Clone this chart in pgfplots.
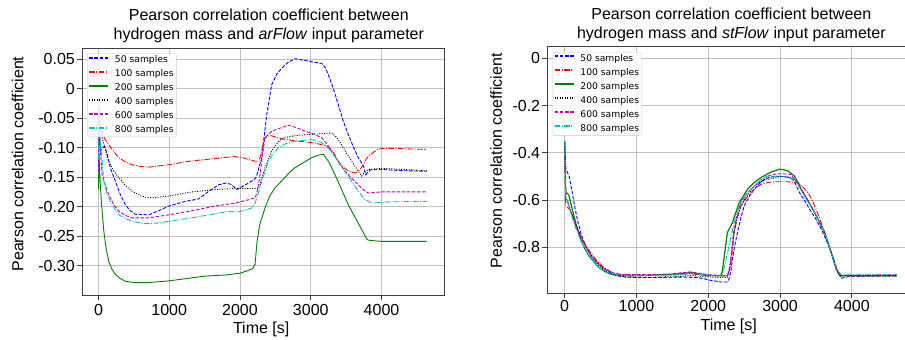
\documentclass[border=0pt]{standalone}
\usepackage{pgfplots}
\pgfplotsset{compat=1.18}
\usepackage{fontspec}
\setmainfont{Liberation Sans}
\newfontfamily\legfont{DejaVu Sans}
\definecolor{mplgreen}{rgb}{0,0.5,0}
\definecolor{mplmag}{rgb}{0.75,0,0.75}
\definecolor{mplcyan}{rgb}{0,0.75,0.75}
\pgfplotsset{
  myaxis/.style={
    scale only axis,
    anchor=south west,
    axis line style={black!75, line width=0.9pt},
    grid=major,
    major grid style={black!25, line width=0.8pt},
    tick align=outside,
    tick pos=left,
    major tick length=5pt,
    tick style={black!75, line width=0.8pt},
    tick label style={font=\fontsize{16}{19}\selectfont},
    yticklabel style={anchor=east, inner sep=0pt, xshift=-2pt},
    xticklabel style={anchor=north, inner sep=0pt},
    label style={font=\fontsize{16}{19}\selectfont},
    title style={font=\fontsize{16}{19.3}\selectfont, align=center, anchor=south, inner sep=0pt, yshift=-1.3pt},
    legend cell align=left,
    legend image code/.code={\draw[##1, line width=1.8pt] plot coordinates {(0pt,2.6pt) (19pt,2.6pt)};},
    legend style={anchor=north west, draw=black!20, fill=white, fill opacity=0.85, text opacity=1,
      rounded corners=2pt, font=\legfont\fontsize{9.2}{11}\selectfont,
      inner xsep=1pt, inner ysep=1.3pt, row sep=3.2pt,
      nodes={inner xsep=1.7pt, inner ysep=1pt, text height=6.8pt, text depth=2pt},
      /tikz/every odd column/.append style={column sep=4pt}},
    xtick={0,1000,2000,3000,4000},
    xticklabels={0,1000,2000,3000,4000},
    xlabel={Time [s]},
    ylabel={Pearson correlation coefficient},
    ylabel style={rotate=0, anchor=base, inner sep=0pt},
    xlabel style={anchor=base, inner sep=0pt},
  },
}
\begin{document}
\begin{tikzpicture}
\useasboundingbox (0,0) rectangle (905pt,340pt);
% ---------------- left: arFlow
\begin{axis}[myaxis,
  at={(82pt,45pt)}, width=362pt, height=247pt,
  xmin=-232.5, xmax=4882.5, ymin=-0.35, ymax=0.0692,
  ytick={-0.30,-0.25,-0.20,-0.15,-0.10,-0.05,0,0.05},
  yticklabels={-0.30,-0.25,-0.20,-0.15,-0.10,-0.05,0,0.05},
  xticklabel style={yshift=-4pt},
  title={Pearson correlation coefficient between\\hydrogen mass and \textit{arFlow} input parameter},
  title style={at={(0.516,1)}},
  ylabel style={at={(axis description cs:-0.162,0.53)}},
  xlabel style={at={(axis description cs:0.495,0)}, yshift=-38.8pt},
  legend style={at={(0.0146,0.9785)}},
]
\addplot[blue, line width=0.9pt, dash pattern=on 3.5pt off 1.6pt] coordinates {(0,-0.15) (10,-0.07) (30,-0.105) (60,-0.10) (90,-0.098) (120,-0.11) (170,-0.135) (240,-0.157) (310,-0.18) (381,-0.197) (450,-0.207) (523,-0.213) (711,-0.214) (850,-0.207) (994,-0.199) (1229,-0.191) (1417,-0.187) (1559,-0.174) (1700,-0.163) (1800,-0.160) (1870,-0.162) (1958,-0.171) (2076,-0.163) (2188,-0.155) (2230,-0.150) (2307,-0.117) (2378,-0.044) (2448,0.007) (2520,0.025) (2590,0.035) (2680,0.045) (2778,0.051) (2870,0.049) (2966,0.047) (3154,0.043) (3210,0.035) (3248,0.024) (3320,0.0) (3389,-0.027) (3460,-0.055) (3531,-0.078) (3600,-0.098) (3672,-0.117) (3740,-0.130) (3776,-0.146) (3820,-0.140) (3860,-0.137) (4002,-0.137) (4300,-0.139) (4640,-0.140)};
\addlegendentry{50 samples}
\addplot[red, line width=0.9pt, dash pattern=on 5.5pt off 1.5pt on 1pt off 1.5pt] coordinates {(0,-0.12) (10,-0.045) (30,-0.068) (60,-0.078) (100,-0.087) (146,-0.095) (220,-0.107) (288,-0.117) (380,-0.124) (476,-0.129) (600,-0.132) (711,-0.133) (850,-0.131) (994,-0.129) (1276,-0.123) (1606,-0.119) (1912,-0.115) (2040,-0.117) (2124,-0.120) (2213,-0.123) (2265,-0.123) (2300,-0.110) (2330,-0.090) (2354,-0.083) (2424,-0.079) (2500,-0.082) (2590,-0.085) (2825,-0.089) (3060,-0.092) (3248,-0.098) (3320,-0.108) (3389,-0.123) (3460,-0.133) (3531,-0.140) (3625,-0.143) (3690,-0.138) (3742,-0.129) (3790,-0.118) (3837,-0.112) (3954,-0.102) (4096,-0.101) (4640,-0.103)};
\addlegendentry{100 samples}
\addplot[mplgreen, line width=0.9pt, solid] coordinates {(0,-0.17) (8,-0.11) (20,-0.15) (40,-0.19) (76,-0.242) (110,-0.272) (146,-0.293) (190,-0.306) (240,-0.315) (310,-0.322) (381,-0.327) (523,-0.329) (700,-0.329) (1000,-0.326) (1250,-0.322) (1500,-0.318) (1800,-0.316) (2000,-0.313) (2100,-0.309) (2180,-0.305) (2213,-0.298) (2240,-0.26) (2280,-0.23) (2354,-0.202) (2420,-0.182) (2495,-0.168) (2600,-0.155) (2700,-0.142) (2778,-0.134) (2900,-0.125) (3013,-0.117) (3100,-0.113) (3178,-0.111) (3260,-0.125) (3343,-0.146) (3440,-0.172) (3531,-0.197) (3680,-0.230) (3790,-0.255) (3814,-0.257) (3900,-0.258) (4002,-0.259) (4638,-0.259)};
\addlegendentry{200 samples}
\addplot[black, line width=0.9pt, dash pattern=on 1pt off 1.5pt] coordinates {(0,-0.10) (10,-0.03) (30,-0.07) (52,-0.083) (100,-0.104) (146,-0.123) (220,-0.140) (288,-0.151) (380,-0.164) (476,-0.174) (600,-0.182) (711,-0.185) (850,-0.184) (994,-0.182) (1323,-0.175) (1653,-0.171) (1982,-0.169) (2265,-0.169) (2300,-0.155) (2354,-0.134) (2448,-0.106) (2520,-0.093) (2590,-0.085) (2700,-0.081) (2825,-0.079) (3060,-0.077) (3295,-0.075) (3370,-0.083) (3436,-0.095) (3500,-0.108) (3578,-0.123) (3650,-0.136) (3719,-0.148) (3770,-0.141) (3813,-0.137) (4002,-0.135) (4638,-0.139)};
\addlegendentry{400 samples}
\addplot[mplmag, line width=0.9pt, dash pattern=on 3.5pt off 1.6pt] coordinates {(0,-0.14) (10,-0.05) (30,-0.11) (52,-0.146) (100,-0.165) (146,-0.180) (220,-0.197) (288,-0.208) (380,-0.215) (476,-0.219) (711,-0.219) (994,-0.214) (1323,-0.207) (1653,-0.199) (1935,-0.194) (2100,-0.189) (2217,-0.185) (2250,-0.170) (2283,-0.146) (2320,-0.110) (2354,-0.083) (2448,-0.072) (2560,-0.067) (2683,-0.062) (2800,-0.066) (2919,-0.072) (3050,-0.077) (3154,-0.083) (3230,-0.094) (3295,-0.106) (3390,-0.124) (3484,-0.140) (3580,-0.152) (3672,-0.163) (3750,-0.172) (3813,-0.177) (3900,-0.176) (4002,-0.175) (4638,-0.175)};
\addlegendentry{600 samples}
\addplot[mplcyan, line width=0.9pt, dash pattern=on 5.5pt off 1.5pt on 1pt off 1.5pt] coordinates {(0,-0.12) (10,-0.04) (30,-0.10) (50,-0.12) (76,-0.157) (120,-0.178) (170,-0.191) (230,-0.204) (288,-0.214) (380,-0.220) (476,-0.225) (664,-0.229) (830,-0.228) (994,-0.225) (1323,-0.219) (1653,-0.212) (1841,-0.208) (1982,-0.209) (2100,-0.205) (2170,-0.202) (2213,-0.194) (2240,-0.185) (2307,-0.157) (2401,-0.123) (2470,-0.110) (2542,-0.100) (2650,-0.093) (2778,-0.089) (3013,-0.086) (3110,-0.089) (3201,-0.095) (3290,-0.107) (3389,-0.123) (3480,-0.140) (3578,-0.157) (3680,-0.175) (3766,-0.188) (3860,-0.194) (4096,-0.192) (4638,-0.191)};
\addlegendentry{800 samples}
\end{axis}
% ---------------- right: stFlow
\begin{axis}[myaxis,
  at={(547.3pt,46.7pt)}, width=367.3pt, height=246.6pt,
  xmin=-242, xmax=4874, ymin=-0.9937, ymax=0.049,
  ytick={-0.8,-0.6,-0.4,-0.2,0},
  yticklabels={-0.8,-0.6,-0.4,-0.2,0},
  xticklabel style={yshift=-2pt},
  title={Pearson correlation coefficient between\\hydrogen mass and \textit{stFlow} input parameter},
  title style={at={(0.501,1)}},
  ylabel style={at={(axis description cs:-0.124,0.537)}},
  xlabel style={at={(axis description cs:0.494,0)}, yshift=-37.1pt},
  legend style={at={(0.0147,0.97851)}},
]
\addplot[blue, line width=0.9pt, dash pattern=on 3.5pt off 1.6pt] coordinates {(0,-0.35) (18,-0.476) (35,-0.48) (60,-0.497) (95,-0.55) (130,-0.610) (175,-0.68) (223,-0.737) (270,-0.777) (316,-0.808) (380,-0.84) (456,-0.864) (525,-0.884) (595,-0.899) (665,-0.912) (735,-0.920) (850,-0.925) (967,-0.927) (1293,-0.927) (1618,-0.925) (1851,-0.927) (1950,-0.933) (2037,-0.939) (2176,-0.946) (2270,-0.946) (2290,-0.933) (2315,-0.90) (2336,-0.850) (2370,-0.79) (2407,-0.737) (2450,-0.68) (2500,-0.624) (2570,-0.585) (2640,-0.554) (2710,-0.53) (2780,-0.512) (2850,-0.504) (2921,-0.500) (3084,-0.500) (3178,-0.512) (3220,-0.535) (3271,-0.568) (3340,-0.60) (3411,-0.638) (3490,-0.675) (3575,-0.723) (3645,-0.77) (3715,-0.822) (3760,-0.86) (3808,-0.906) (3855,-0.930) (3949,-0.923) (4300,-0.921) (4626,-0.920)};
\addlegendentry{50 samples}
\addplot[red, line width=0.9pt, dash pattern=on 5.5pt off 1.5pt on 1pt off 1.5pt] coordinates {(0,-0.35) (15,-0.627) (40,-0.630) (84,-0.646) (150,-0.70) (223,-0.751) (290,-0.79) (363,-0.822) (450,-0.857) (549,-0.885) (640,-0.902) (735,-0.913) (1060,-0.918) (1350,-0.916) (1618,-0.915) (1750,-0.910) (1850,-0.915) (1990,-0.918) (2222,-0.920) (2266,-0.920) (2290,-0.90) (2313,-0.878) (2360,-0.737) (2400,-0.68) (2453,-0.624) (2520,-0.595) (2593,-0.568) (2660,-0.548) (2734,-0.533) (2820,-0.526) (2921,-0.522) (3107,-0.522) (3248,-0.526) (3320,-0.545) (3388,-0.568) (3440,-0.595) (3481,-0.624) (3550,-0.675) (3621,-0.737) (3700,-0.81) (3785,-0.892) (3846,-0.920) (4626,-0.920)};
\addlegendentry{100 samples}
\addplot[mplgreen, line width=1.2pt, solid] coordinates {(0,-0.35) (15,-0.568) (40,-0.572) (60,-0.582) (95,-0.625) (130,-0.667) (175,-0.72) (223,-0.765) (280,-0.805) (339,-0.836) (410,-0.862) (479,-0.885) (560,-0.902) (642,-0.913) (828,-0.920) (1153,-0.918) (1525,-0.913) (1650,-0.909) (1758,-0.906) (1870,-0.912) (1990,-0.918) (2173,-0.920) (2196,-0.899) (2230,-0.82) (2266,-0.737) (2336,-0.695) (2430,-0.610) (2547,-0.554) (2640,-0.525) (2734,-0.504) (2874,-0.481) (2991,-0.469) (3050,-0.471) (3107,-0.476) (3201,-0.498) (3250,-0.525) (3294,-0.554) (3390,-0.603) (3481,-0.652) (3550,-0.693) (3621,-0.737) (3700,-0.81) (3785,-0.892) (3832,-0.920) (3949,-0.920) (4626,-0.920)};
\addlegendentry{200 samples}
\addplot[black, line width=0.9pt, dash pattern=on 1pt off 1.5pt] coordinates {(0,-0.35) (15,-0.596) (40,-0.60) (80,-0.64) (150,-0.70) (223,-0.751) (300,-0.80) (380,-0.84) (479,-0.877) (580,-0.902) (700,-0.918) (850,-0.925) (1200,-0.926) (1600,-0.923) (1750,-0.918) (1900,-0.922) (2100,-0.926) (2266,-0.927) (2290,-0.90) (2313,-0.850) (2360,-0.737) (2400,-0.68) (2453,-0.624) (2540,-0.58) (2640,-0.540) (2730,-0.522) (2827,-0.512) (3014,-0.500) (3178,-0.504) (3240,-0.525) (3294,-0.554) (3390,-0.603) (3481,-0.652) (3550,-0.693) (3621,-0.737) (3700,-0.81) (3785,-0.899) (3846,-0.920) (4000,-0.918) (4626,-0.918)};
\addlegendentry{400 samples}
\addplot[mplmag, line width=0.9pt, dash pattern=on 3.5pt off 1.6pt] coordinates {(0,-0.35) (15,-0.603) (40,-0.607) (80,-0.645) (150,-0.705) (223,-0.755) (300,-0.80) (380,-0.838) (479,-0.873) (580,-0.896) (700,-0.910) (850,-0.915) (1200,-0.914) (1500,-0.912) (1650,-0.906) (1760,-0.903) (1870,-0.909) (2000,-0.915) (2266,-0.920) (2304,-0.878) (2350,-0.737) (2400,-0.66) (2453,-0.610) (2540,-0.57) (2640,-0.540) (2730,-0.515) (2827,-0.498) (2920,-0.490) (3014,-0.488) (3154,-0.491) (3220,-0.52) (3294,-0.554) (3390,-0.603) (3481,-0.652) (3550,-0.693) (3621,-0.737) (3700,-0.81) (3785,-0.892) (3846,-0.918) (4626,-0.915)};
\addlegendentry{600 samples}
\addplot[mplcyan, line width=0.9pt, dash pattern=on 5.5pt off 1.5pt on 1pt off 1.5pt] coordinates {(0,-0.35) (15,-0.59) (40,-0.60) (80,-0.65) (150,-0.715) (223,-0.77) (300,-0.815) (380,-0.85) (479,-0.885) (580,-0.905) (700,-0.915) (850,-0.918) (1200,-0.918) (1600,-0.916) (1760,-0.910) (1900,-0.915) (2100,-0.918) (2196,-0.920) (2240,-0.86) (2290,-0.793) (2360,-0.695) (2453,-0.610) (2540,-0.57) (2640,-0.540) (2730,-0.515) (2827,-0.498) (3014,-0.498) (3201,-0.512) (3270,-0.545) (3341,-0.582) (3410,-0.617) (3481,-0.652) (3550,-0.693) (3621,-0.737) (3700,-0.81) (3785,-0.892) (3846,-0.913) (4626,-0.913)};
\addlegendentry{800 samples}
\end{axis}
\end{tikzpicture}
\end{document}
